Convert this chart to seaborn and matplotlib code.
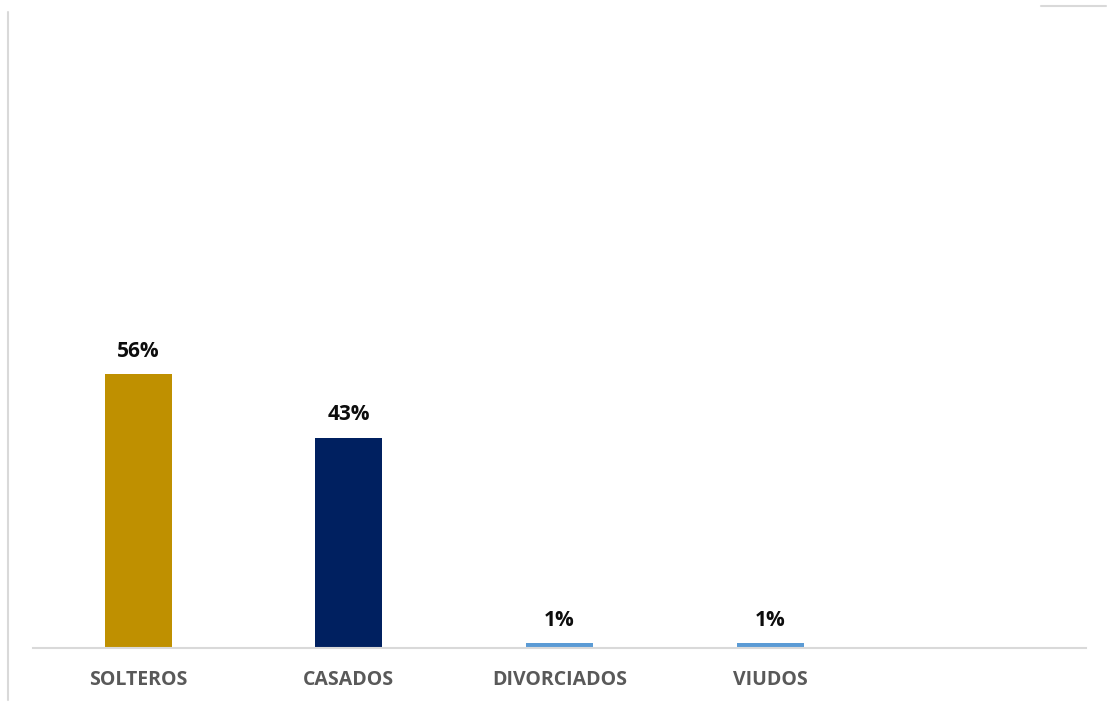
import matplotlib
matplotlib.use("Agg")
import matplotlib.pyplot as plt
import seaborn as sns
import pandas as pd
from matplotlib.lines import Line2D

# Estado civil: participación por categoría
categories = ["SOLTEROS", "CASADOS", "DIVORCIADOS", "VIUDOS"]
shares = [0.56, 0.43, 0.01, 0.01]
labels = ["56%", "43%", "1%", "1%"]
bar_colors = ["#BF9000", "#002060", "#5B9BD5", "#5B9BD5"]
slots = categories + [" "]  # empty fifth slot on the category axis

sns.set_theme(style="white")
plt.rcParams["font.family"] = ["Open Sans", "DejaVu Sans"]

W, H = 1107, 702
fig = plt.figure(figsize=(W / 100, H / 100), dpi=100)
ax = fig.add_axes([33 / W, 1 - 648 / H, (1086 - 33) / W, 587 / H])

df = pd.DataFrame({"cat": categories, "share": shares})
sns.barplot(data=df, x="cat", y="share", order=slots, hue="cat",
            hue_order=categories, palette=bar_colors, width=0.318,
            legend=False, ax=ax, saturation=1, linewidth=0)

ax.set_ylim(0, 1.2)
ax.set_xlim(-0.5, 4.5)
ax.set_xlabel("")
ax.set_ylabel("")
ax.set_yticks([])
for side in ["top", "right", "left"]:
    ax.spines[side].set_visible(False)
ax.spines["bottom"].set_color("#D9D9D9")
ax.spines["bottom"].set_linewidth(1.5)
ax.tick_params(axis="x", length=0, pad=16)
for t in ax.get_xticklabels():
    t.set_fontsize(14)
    t.set_fontweight("bold")
    t.set_color("#595959")

for i, (v, lab) in enumerate(zip(shares, labels)):
    ax.annotate(lab, (i, v), xytext=(0, 9), textcoords="offset points",
                ha="center", va="bottom", fontsize=15, fontweight="bold",
                color="#0D0D0D")

# frame fragments around the chart area
fig.add_artist(Line2D([8 / W, 8 / W], [1 - 12 / H, 1 - 700 / H],
                      transform=fig.transFigure, color="#D9D9D9", lw=1.5))
fig.add_artist(Line2D([1041 / W, 1106 / W], [1 - 5.5 / H, 1 - 5.5 / H],
                      transform=fig.transFigure, color="#D9D9D9", lw=1.5))

fig.savefig("out.png", dpi=100)
